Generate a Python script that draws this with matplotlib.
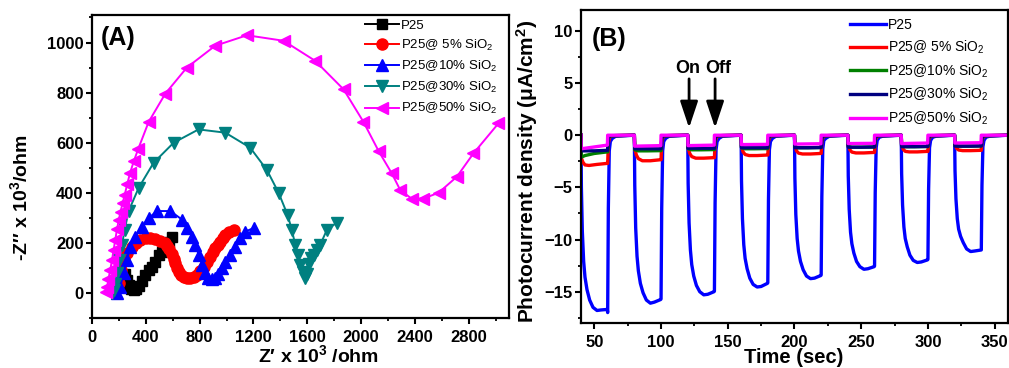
import numpy as np
import matplotlib
matplotlib.use('Agg')
import matplotlib.pyplot as plt
from matplotlib.ticker import MultipleLocator

plt.rcParams['font.family'] = ['Liberation Sans', 'DejaVu Sans']
plt.rcParams['mathtext.fontset'] = 'custom'
plt.rcParams['mathtext.rm'] = 'Liberation Sans'
plt.rcParams['mathtext.bf'] = 'Liberation Sans:bold'
plt.rcParams['mathtext.it'] = 'Liberation Sans:italic'

labels = ['P25', 'P25@ 5% SiO$_\\mathrm{2}$', 'P25@10% SiO$_\\mathrm{2}$',
          'P25@30% SiO$_\\mathrm{2}$', 'P25@50% SiO$_\\mathrm{2}$']

# ---- (A) Nyquist data, Z' and -Z'' in 10^3 ohm ----
p25_x = [245, 258, 272, 290, 310, 330, 350, 372, 396, 421, 446, 470, 495, 520, 545, 570, 594]
p25_y = [75, 50, 30, 15, 10, 15, 28, 48, 72, 90, 105, 125, 150, 165, 185, 205, 225]

s5_x = [200, 215, 235, 260, 297, 330, 359, 400, 433, 470, 508, 540, 557, 575, 594, 607, 619,
        632, 644, 662, 681, 705, 730, 755, 780, 805, 830, 855, 879, 898, 916, 935, 953, 972,
        991, 1020, 1053]
s5_y = [40, 90, 130, 160, 185, 200, 210, 218, 219, 215, 207, 198, 188, 175, 155, 137, 119,
        100, 85, 72, 65, 60, 59, 63, 72, 88, 105, 125, 145, 162, 179, 192, 205, 220,
        232, 245, 252]

s10_x = [186, 210, 235, 260, 285, 322, 371, 421, 483, 582, 669, 705, 743, 768, 795, 820, 840,
         860, 890, 916, 940, 965, 991, 1028, 1065, 1102, 1139, 1201]
s10_y = [0, 25, 79, 132, 185, 225, 265, 299, 327, 327, 293, 260, 225, 190, 150, 110, 80,
         60, 55, 59, 75, 100, 125, 152, 185, 219, 245, 259]

s30_x = [150, 161, 173, 186, 203, 223, 243, 272, 347, 458, 607, 792, 991, 1176, 1300, 1387,
         1455, 1486, 1511, 1530, 1548, 1565, 1580, 1595, 1610, 1630, 1647, 1670, 1696, 1746, 1820]
s30_y = [0, 10, 35, 80, 133, 193, 253, 327, 420, 520, 600, 653, 640, 580, 491, 400,
         310, 250, 192, 150, 112, 85, 60, 75, 115, 140, 152, 170, 192, 252, 281]

s50_x = [105, 112, 122, 135, 148, 160, 172, 186, 198, 212, 228, 242, 262, 282, 310, 342, 421,
         545, 705, 915, 1152, 1424, 1659, 1870, 2018, 2130, 2229, 2291, 2377, 2464, 2576, 2712,
         2835, 3021]
s50_y = [5, 25, 55, 90, 130, 170, 210, 255, 290, 325, 360, 390, 435, 478, 525, 573, 683,
         796, 900, 987, 1029, 1007, 927, 813, 683, 567, 477, 411, 376, 377, 400, 464,
         557, 677]

# ---- (B) photocurrent transients, light on at each cycle start for 20 s ----
cycle_starts = [40, 80, 120, 160, 200, 240, 280, 320]

blue_off = [0, 0.3, 1, 2, 3, 4.5, 6.5, 9, 12, 15, 19.7, 20, 20.5, 21.2, 22, 23.5, 26, 39.9]
blue_cycles = [
    [0, -5.0, -9.2, -12.1, -13.6, -14.8, -15.8, -16.5, -16.8, -16.75, -16.7, -17.0, -7, -1.5, -0.6, -0.3, -0.1, 0],
    [0, -4.8, -8.9, -11.6, -13.0, -14.2, -15.1, -15.8, -16.1, -16.0, -15.75, -15.7, -7, -1.5, -0.6, -0.3, -0.1, 0],
    [0, -4.6, -8.4, -11.0, -12.4, -13.5, -14.4, -15.0, -15.3, -15.25, -15.0, -14.95, -6.5, -1.4, -0.6, -0.3, -0.1, 0],
    [0, -4.4, -8.0, -10.5, -11.8, -12.8, -13.7, -14.3, -14.55, -14.5, -14.2, -14.15, -6.2, -1.4, -0.6, -0.3, -0.1, 0],
    [0, -4.1, -7.6, -9.9, -11.1, -12.1, -12.9, -13.5, -13.75, -13.7, -13.45, -13.4, -5.9, -1.3, -0.5, -0.3, -0.1, 0],
    [0, -3.9, -7.1, -9.3, -10.4, -11.3, -12.1, -12.6, -12.85, -12.8, -12.6, -12.55, -5.5, -1.2, -0.5, -0.2, -0.1, 0],
    [0, -3.7, -6.7, -8.8, -9.9, -10.7, -11.5, -12.0, -12.2, -12.15, -11.95, -11.9, -5.2, -1.2, -0.5, -0.2, -0.1, 0],
    [0, -3.4, -6.1, -8.0, -9.0, -9.7, -10.3, -10.9, -11.15, -11.1, -11.0, -11.0, -4.8, -1.1, -0.5, -0.2, -0.1, 0],
]

red_off = [0, 0.3, 1.5, 3, 6, 12, 19.7, 20, 20.5, 21.5, 23, 39.9]
red_cycles = [
    [0, -2.2, -2.6, -2.85, -2.9, -2.8, -2.7, -2.7, -0.8, -0.2, -0.05, 0],
    [0, -1.3, -1.9, -2.25, -2.45, -2.45, -2.35, -2.35, -0.7, -0.2, -0.05, 0],
    [0, -1.2, -1.75, -2.05, -2.2, -2.2, -2.15, -2.15, -0.7, -0.2, -0.05, 0],
    [0, -1.1, -1.6, -1.85, -1.95, -1.95, -1.9, -1.9, -0.6, -0.2, -0.05, 0],
    [0, -1.05, -1.5, -1.72, -1.8, -1.8, -1.75, -1.75, -0.6, -0.2, -0.05, 0],
    [0, -1.0, -1.4, -1.62, -1.7, -1.7, -1.65, -1.65, -0.5, -0.2, -0.05, 0],
    [0, -0.95, -1.35, -1.55, -1.6, -1.6, -1.55, -1.55, -0.5, -0.2, -0.05, 0],
    [0, -0.9, -1.25, -1.42, -1.48, -1.48, -1.45, -1.45, -0.5, -0.2, -0.05, 0],
]

flat_off = [0, 0.3, 3, 10, 19.7, 20, 20.6, 22, 39.9]
green_cycles = [
    [0, -2.1, -1.95, -1.75, -1.6, -1.6, -0.2, -0.05, 0],
    [0, -1.4, -1.5, -1.5, -1.48, -1.48, -0.2, -0.05, 0],
    [0, -1.3, -1.4, -1.4, -1.38, -1.38, -0.2, -0.05, 0],
    [0, -1.2, -1.3, -1.3, -1.28, -1.28, -0.2, -0.05, 0],
    [0, -1.1, -1.2, -1.2, -1.18, -1.18, -0.2, -0.05, 0],
    [0, -1.05, -1.15, -1.15, -1.13, -1.13, -0.2, -0.05, 0],
    [0, -1.0, -1.1, -1.1, -1.08, -1.08, -0.2, -0.05, 0],
    [0, -0.95, -1.05, -1.05, -1.03, -1.03, -0.2, -0.05, 0],
]
navy_cycles = [
    [0, -1.5, -1.5, -1.5, -1.45, -1.45, -0.2, -0.05, 0],
    [0, -1.3, -1.3, -1.3, -1.3, -1.3, -0.2, -0.05, 0],
    [0, -1.25, -1.25, -1.25, -1.25, -1.25, -0.2, -0.05, 0],
    [0, -1.2, -1.2, -1.2, -1.2, -1.2, -0.2, -0.05, 0],
    [0, -1.2, -1.2, -1.2, -1.18, -1.18, -0.2, -0.05, 0],
    [0, -1.15, -1.15, -1.15, -1.13, -1.13, -0.2, -0.05, 0],
    [0, -1.1, -1.1, -1.1, -1.08, -1.08, -0.2, -0.05, 0],
    [0, -1.05, -1.05, -1.05, -1.03, -1.03, -0.2, -0.05, 0],
]

mag_off = [0, 0.2, 19.8, 20.0, 39.9]
mag_cycles = [
    [0, -1.3, -0.95, 0, 0],
    [0, -1.05, -1.0, 0, 0],
    [0, -1.0, -0.95, 0, 0],
    [0, -0.9, -0.88, 0, 0],
    [0, -0.85, -0.82, 0, 0],
    [0, -0.8, -0.78, 0, 0],
    [0, -0.8, -0.75, 0, 0],
    [0, -0.75, -0.72, 0, 0],
]


def build(offsets, cycles):
    t = np.concatenate([s + np.array(offsets) for s in cycle_starts] + [[360]])
    v = np.concatenate([np.array(c, float) for c in cycles] + [[0]])
    return t, v


fig = plt.figure(figsize=(10.09, 3.68), dpi=100)
axA = fig.add_axes([0.0912, 0.1359, 0.4133, 0.8234])
axB = fig.add_axes([0.5758, 0.1223, 0.4232, 0.8505])

for ax in (axA, axB):
    for sp in ax.spines.values():
        sp.set_linewidth(1.6)
    ax.tick_params(which='major', direction='out', length=4, width=1.5, labelsize=12, pad=2)
    ax.tick_params(axis='x', which='major', pad=4.5)
    ax.tick_params(which='minor', direction='out', length=2.5, width=1.3)

# panel A
styles = [('black', 's', 6.5), ('red', 'o', 8), ('blue', '^', 8.5), ('#008080', 'v', 8.5), ('#FF00FF', '<', 8.5)]
xs = [p25_x, s5_x, s10_x, s30_x, s50_x]
ys = [p25_y, s5_y, s10_y, s30_y, s50_y]
for x, y, (c, m, ms), lab in zip(xs, ys, styles, labels):
    axA.plot(x, y, color=c, marker=m, ms=ms, lw=1.4, label=lab)
axA.set_xlim(0, 3100)
axA.set_ylim(-100, 1110)
axA.xaxis.set_major_locator(MultipleLocator(400))
axA.xaxis.set_minor_locator(MultipleLocator(200))
axA.yaxis.set_major_locator(MultipleLocator(200))
axA.yaxis.set_minor_locator(MultipleLocator(100))
for lab in axA.get_xticklabels() + axA.get_yticklabels():
    lab.set_fontweight('bold')
axA.set_xlabel('Z\u2032 x 10$^\\mathbf{3}$ /ohm', fontsize=14, fontweight='bold')
axA.xaxis.set_label_coords(0.542, -0.088)
axA.set_ylabel('-Z\u2032\u2032 x 10$^\\mathbf{3}$/ohm', fontsize=14, fontweight='bold')
axA.yaxis.set_label_coords(-0.145, 0.396)
axA.text(0.02, 0.965, '(A)', transform=axA.transAxes, fontsize=18, fontweight='bold', va='top')
axA.legend(loc='upper left', bbox_to_anchor=(0.635, 1.01), frameon=False, fontsize=9.5,
           handlelength=2.6, handletextpad=0.15, labelspacing=0.45, borderaxespad=0.2)

# panel B
cols = ['#0000FF', '#FF0000', '#008000', '#000080', '#FF00FF']
series = [build(blue_off, blue_cycles), build(red_off, red_cycles), build(flat_off, green_cycles),
          build(flat_off, navy_cycles), build(mag_off, mag_cycles)]
for (t, v), c, lab in zip(series, cols, labels):
    axB.plot(t, v, color=c, lw=2.4, label=lab)
axB.set_xlim(40, 360)
axB.set_ylim(-18, 12)
axB.xaxis.set_major_locator(MultipleLocator(50))
axB.xaxis.set_minor_locator(MultipleLocator(25))
axB.yaxis.set_major_locator(MultipleLocator(5))
axB.yaxis.set_minor_locator(MultipleLocator(2.5))
for lab in axB.get_xticklabels() + axB.get_yticklabels():
    lab.set_fontweight('bold')
axB.set_xlabel('Time (sec)', fontsize=14.5, fontweight='bold')
axB.xaxis.set_label_coords(0.497, -0.08)
axB.set_ylabel('Photocurrent density (\u03bcA/cm$^\\mathbf{2}$)', fontsize=15, fontweight='bold')
axB.yaxis.set_label_coords(-0.096, 0.486)
axB.text(0.025, 0.945, '(B)', transform=axB.transAxes, fontsize=18, fontweight='bold', va='top')
axB.text(120, 6.4, 'On', fontsize=13, fontweight='bold', ha='center', va='center')
axB.text(142.5, 6.4, 'Off', fontsize=13, fontweight='bold', ha='center', va='center')
for tx in (121, 140.5):
    axB.annotate('', xy=(tx, 0.7), xytext=(tx, 5.4),
                 arrowprops=dict(arrowstyle='-|>,head_length=0.9,head_width=0.3', lw=2, color='black',
                                 mutation_scale=18, shrinkA=0, shrinkB=0))
axB.legend(loc='upper left', bbox_to_anchor=(0.61, 1.0), frameon=False, fontsize=10,
           handlelength=2.6, handletextpad=0.15, labelspacing=0.45, borderaxespad=0.2)

fig.savefig('out.png', dpi=100)
